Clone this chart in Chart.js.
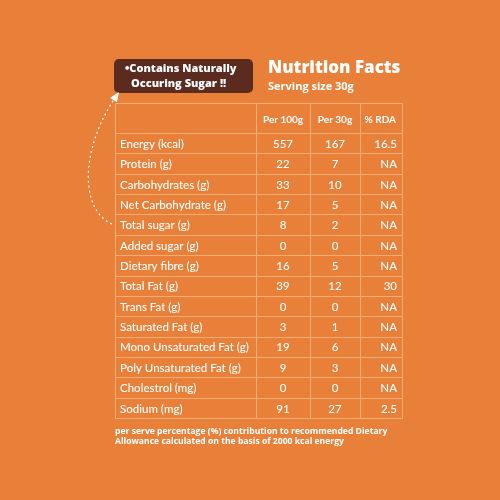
<!DOCTYPE html>
<html><head><meta charset="utf-8">
<script src="https://cdn.jsdelivr.net/npm/chart.js@4"></script>
<style>html,body{margin:0;padding:0;background:#E8803A;}#c{display:block;}</style>
</head><body>
<div style="width:500px;height:500px"><canvas id="c" width="500" height="500"></canvas></div>
<script>
const nutrients=["Energy (kcal)","Protein (g)","Carbohydrates (g)","Net Carbohydrate (g)","Total sugar (g)","Added sugar (g)","Dietary fibre (g)","Total Fat (g)","Trans Fat (g)","Saturated Fat (g)","Mono Unsaturated Fat (g)","Poly Unsaturated Fat (g)","Cholestrol (mg)","Sodium (mg)"];
const per100g=["557","22","33","17","8","0","16","39","0","3","19","9","0","91"];
const per30g=["167","7","10","5","2","0","5","12","0","1","6","3","0","27"];
const rda=["16.5","NA","NA","NA","NA","NA","NA","30","NA","NA","NA","NA","NA","2.5"];
const headers=["Per 100g","Per 30g","% RDA"];

const LINE='#F6AE74';
const tablePlugin={id:'tbl',afterDraw(ch){
  const c=ch.ctx,y=ch.scales.y,a=ch.chartArea;
  const L=a.left,R=a.right,T=a.top,B=a.bottom;
  const cols=[L,256,310,360,R];
  const hTop=103;
  const step=(B-T)/nutrients.length;
  c.save();
  c.strokeStyle=LINE;c.lineWidth=1;
  c.beginPath();
  c.rect(L+.5,hTop+.5,R-L,B-hTop);
  for(let i=1;i<4;i++){c.moveTo(cols[i]+.5,hTop);c.lineTo(cols[i]+.5,B);}
  for(let i=0;i<nutrients.length;i++){const yy=Math.round(y.getPixelForValue(i)-step/2)+.5;c.moveTo(L,yy);c.lineTo(R,yy);}
  c.stroke();
  c.fillStyle='#fff';c.textBaseline='middle';
  c.font='bold 10px Lato';c.textAlign='center';
  c.fillText(headers[0],283,120);c.fillText(headers[1],335,120);
  c.textAlign='right';c.fillText(headers[2],396,120);
  c.font='500 11.5px Lato';
  nutrients.forEach((n,i)=>{
    const yy=y.getPixelForValue(i)+1;
    c.textAlign='left';c.fillText(n,L+5,yy);
    c.textAlign='center';c.fillText(per100g[i],283,yy);c.fillText(per30g[i],335,yy);
    c.textAlign='right';c.fillText(rda[i],397,yy);
  });
  // title
  c.textAlign='left';c.font='800 17px "Open Sans"';c.fillText('Nutrition Facts',268,68);
  c.font='bold 11px "Open Sans"';c.fillText('Serving size 30g',268,87);
  // brown box
  c.fillStyle='#5B2B1F';c.beginPath();c.roundRect(114,59,139,34,5);c.fill();
  c.fillStyle='#fff';c.font='800 11px "Open Sans"';
  c.fillText('•Contains Naturally',125,69);c.fillText('Occuring Sugar !!',131,84);
  // footnote
  c.font='bold 8.6px "Open Sans"';
  c.fillText('per serve percentage (%) contribution to recommended Dietary',115,432);
  c.fillText('Allowance calculated on the basis of 2000 kcal energy',115,442);
  // dotted arrow
  c.strokeStyle='#fff';c.lineWidth=1.2;c.setLineDash([2,3]);
  c.beginPath();c.moveTo(112,224);c.bezierCurveTo(80,210,80,150,115,98);c.stroke();
  c.setLineDash([]);c.beginPath();c.moveTo(119,92);c.lineTo(110,98);c.lineTo(117,102);c.closePath();c.fill();
  c.restore();
}};

new Chart(document.getElementById('c'),{
  type:'bar',
  data:{labels:nutrients,datasets:[{data:nutrients.map(()=>0),backgroundColor:'rgba(0,0,0,0)'}]},
  options:{responsive:false,animation:false,indexAxis:'y',
    layout:{padding:{left:115,right:98,top:133,bottom:82}},
    plugins:{legend:{display:false},tooltip:{enabled:false}},
    scales:{y:{display:false,offset:true},x:{display:false,min:0,max:1}}},
  plugins:[tablePlugin]
});
</script>
</body></html>
